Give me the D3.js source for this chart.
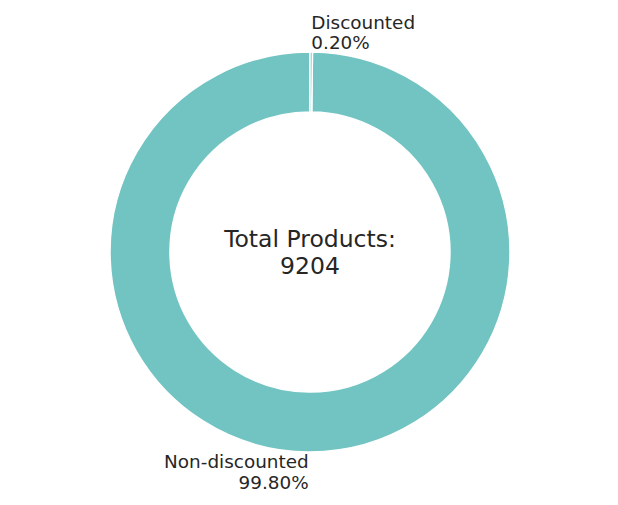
<!DOCTYPE html>
<html>
<head>
  <style>
    body { margin: 0; background: #fff; font-family: "DejaVu Sans", sans-serif; }
    .slice-label { fill: #262626; font-size: 18.4px; }
    .center-label { fill: #262626; font-size: 23.5px; }
  </style>
  <script src="https://d3js.org/d3.v7.min.js"></script>
</head>
<body>
<div class="chart"></div>
<script>
const categories = ['Non-discounted', 'Discounted'];
const counts = [9186, 18];
const percentLabels = ['99.80%', '0.20%'];
const totalProducts = 9204;

const width = 618;
const height = 505;
const cx = 310, cy = 252;
const outerR = 200, innerR = 140;

const svg = d3.select('.chart')
  .append('svg')
  .attr('width', width)
  .attr('height', height);

const g = svg.append('g').attr('transform', `translate(${cx},${cy})`);

// matplotlib-style pie: start at top, go counterclockwise
const pie = d3.pie()
  .sort(null)
  .startAngle(0)
  .endAngle(-2 * Math.PI);

const arcs = pie(counts);
const data = categories.map((name, i) => Object.assign({ name, pct: percentLabels[i] }, arcs[i]));

const arc = d3.arc().innerRadius(innerR).outerRadius(outerR);

g.selectAll('path.slice')
  .data(data)
  .enter()
  .append('path')
  .attr('class', 'slice')
  .attr('d', arc)
  .attr('fill', '#72c4c2')
  .attr('stroke', '#fff')
  .attr('stroke-width', 1.5);

// labels at 1.1 * radius, at the mid angle of each wedge
g.selectAll('text.slice-label')
  .data(data)
  .enter()
  .append('text')
  .attr('class', 'slice-label')
  .each(function(d) {
    const a = (d.startAngle + d.endAngle) / 2;
    const x = Math.sin(a) * outerR * 1.1;
    const y = -Math.cos(a) * outerR * 1.1;
    const anchor = x > 0 ? 'start' : 'end';
    const t = d3.select(this).attr('text-anchor', anchor);
    t.append('tspan').attr('x', x).attr('y', y - 3.5).text(d.name);
    t.append('tspan').attr('x', x).attr('y', y + 17).text(d.pct);
  });

const center = g.append('text')
  .attr('class', 'center-label')
  .attr('text-anchor', 'middle');
center.append('tspan').attr('x', 0).attr('y', -5.5).text('Total Products:');
center.append('tspan').attr('x', 0).attr('y', 21.5).text(totalProducts);
</script>
</body>
</html>
